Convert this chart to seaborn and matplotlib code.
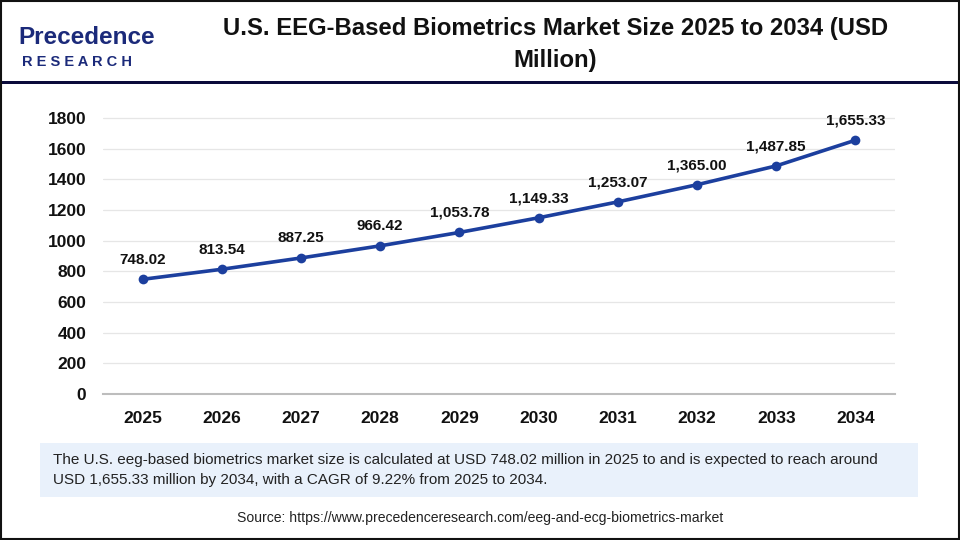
import matplotlib
matplotlib.use("Agg")
import matplotlib.pyplot as plt
import seaborn as sns
import pandas as pd
from matplotlib.patches import Rectangle

years = [2025, 2026, 2027, 2028, 2029, 2030, 2031, 2032, 2033, 2034]
market_size = [748.02, 813.54, 887.25, 966.42, 1053.78, 1149.33, 1253.07, 1365.00, 1487.85, 1655.33]
value_labels = ["748.02", "813.54", "887.25", "966.42", "1,053.78", "1,149.33",
                "1,253.07", "1,365.00", "1,487.85", "1,655.33"]
y_ticks = [0, 200, 400, 600, 800, 1000, 1200, 1400, 1600, 1800]

title = "U.S. EEG-Based Biometrics Market Size 2025 to 2034 (USD\nMillion)"
caption = ("The U.S. eeg-based biometrics market size is calculated at USD 748.02 million in 2025 to and is expected to reach around\n"
           "USD 1,655.33 million by 2034, with a CAGR of 9.22% from 2025 to 2034.")
source = "Source: https://www.precedenceresearch.com/eeg-and-ecg-biometrics-market"

sns.set_theme(style="white")
plt.rcParams['font.family'] = ['Liberation Sans', 'DejaVu Sans']

df = pd.DataFrame({"year": years, "size": market_size})

fig = plt.figure(figsize=(9.6, 5.4), dpi=100)
ax = fig.add_axes([0.1073, 0.2704, 0.825, 0.5394])

sns.lineplot(data=df, x="year", y="size", ax=ax, color="#1c3f9e", linewidth=2.6,
             marker="o", markersize=7, markeredgewidth=0)

for x, y, lab in zip(years, market_size, value_labels):
    ax.annotate(lab, (x, y), xytext=(0, 9), textcoords="offset points",
                ha="center", va="bottom", fontsize=11, fontweight="bold", color="#111111")

ax.set_xlim(2024.5, 2034.5)
ax.set_ylim(0, 1900)
ax.set_xticks(years)
ax.set_xticklabels([str(y) for y in years])
ax.set_yticks(y_ticks)
ax.set_xlabel("")
ax.set_ylabel("")
ax.tick_params(axis="both", labelsize=12.5, length=0, pad=12, colors="#111111")
for lbl in ax.get_xticklabels() + ax.get_yticklabels():
    lbl.set_fontweight("bold")
ax.yaxis.grid(True, color="#e6e6e6", linewidth=0.9)
ax.xaxis.grid(False)
for s in ["top", "right", "left"]:
    ax.spines[s].set_visible(False)
ax.spines["bottom"].set_color("#bdbdbd")
ax.spines["bottom"].set_linewidth(1.5)

# header
fig.text(0.5786, 1 - 44 / 540, title, ha="center", va="center", fontsize=17.2, fontweight="bold",
         color="#111111", linespacing=1.5)
fig.add_artist(Rectangle((0, 1 - 84 / 540), 1, 3 / 540, transform=fig.transFigure,
                         color="#0b0b3b", lw=0))

# logo
fig.text(0.019, 1 - 37 / 540, "Precedence", fontsize=17.5, color="#1b2a7a", fontweight="bold",
         va="center", ha="left")
fig.text(0.023, 1 - 62 / 540, "R E S E A R C H", fontsize=10.5, color="#1b2a7a", fontweight="bold",
         va="center", ha="left")

# caption box
fig.add_artist(Rectangle((40 / 960, 1 - 497 / 540), 878 / 960, 54 / 540, transform=fig.transFigure,
                         facecolor="#e9f1fb", edgecolor="none"))
fig.text(53 / 960, 1 - 470 / 540, caption, ha="left", va="center", fontsize=11.0,
         color="#222222", linespacing=1.6)
fig.text(0.5, 1 - 518 / 540, source, ha="center", va="center", fontsize=10.1,
         color="#222222")

# outer border
fig.add_artist(Rectangle((0.001, 0.002), 0.998, 0.996, transform=fig.transFigure,
                         facecolor="none", edgecolor="#111111", lw=1.5))

fig.savefig("out.png", dpi=100)
